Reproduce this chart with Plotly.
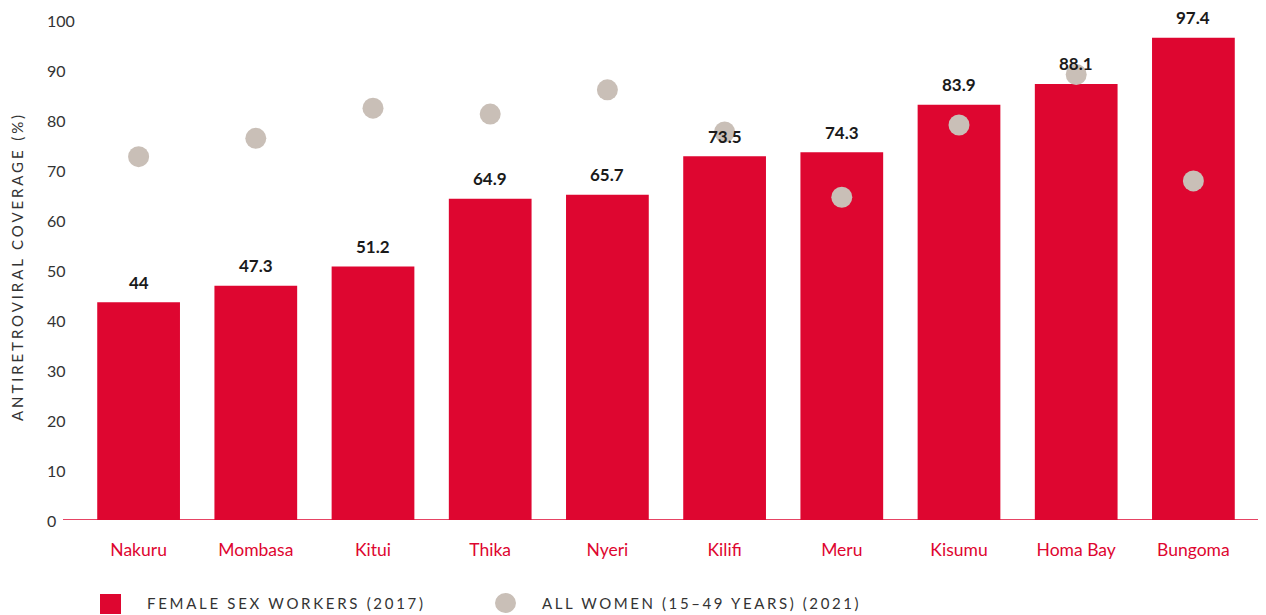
import plotly.graph_objects as go

counties = ["Nakuru", "Mombasa", "Kitui", "Thika", "Nyeri", "Kilifi", "Meru", "Kisumu", "Homa Bay", "Bungoma"]
fsw_2017 = [44, 47.3, 51.2, 64.9, 65.7, 73.5, 74.3, 83.9, 88.1, 97.4]
all_women_2021 = [73.4, 77.1, 83.2, 82.0, 86.9, 78.4, 65.2, 79.8, 90.0, 68.5]
y_ticks = list(range(0, 101, 10))

RED = "#de0630"
GREY = "#c9bfb7"
TXT = "#333333"
FONT = "Lato, 'Open Sans', sans-serif"

OFF = 8  # page body margin
W, H = 1266 - OFF, 615 - OFF
PL, PR, PT, PB = 80, 1252, 25, 520  # plot box in screen pixels
L, R, T, B = PL - OFF, W - (PR - OFF), PT - OFF, H - (PB - OFF)
PW, PH = W - L - R, H - T - B


def px(x):
    return (x - OFF - L) / PW


def py(y):
    return (H - B - (y - OFF)) / PH


fig = go.Figure()
fig.add_trace(go.Bar(x=counties, y=fsw_2017, marker=dict(color=RED, line=dict(width=0)),
                     name="FEMALE SEX WORKERS (2017)", hoverinfo="x+y"))
fig.add_trace(go.Scatter(x=counties, y=all_women_2021, mode="markers",
                         marker=dict(color=GREY, size=21, line=dict(width=0)),
                         name="ALL WOMEN (15–49 YEARS) (2021)", cliponaxis=False))

annotations = []
for c, v in zip(counties, fsw_2017):
    annotations.append(dict(x=c, y=v, xref="x", yref="y", text=f"<b>{v:g}</b>", showarrow=False,
                            yshift=20, yanchor="middle",
                            font=dict(family=FONT, size=17, color="#1a1a1a")))

# left-aligned y tick labels
for t in y_ticks:
    annotations.append(dict(x=px(45), y=t, xref="paper", yref="y", text=str(t), showarrow=False,
                            xanchor="left", yanchor="middle", yshift=t * 0.05,
                            font=dict(family=FONT, size=16, color=TXT)))

# axis title
annotations.append(dict(x=px(17), y=py(267), xref="paper", yref="paper",
                        text='<span style="letter-spacing:2.9px">ANTIRETROVIRAL COVERAGE (%)</span>',
                        textangle=-90, showarrow=False, xanchor="center", yanchor="middle",
                        font=dict(family=FONT, size=15, color=TXT)))
# legend texts
annotations.append(dict(x=px(145), y=py(603), xref="paper", yref="paper",
                        text='<span style="letter-spacing:2.7px">FEMALE SEX WORKERS (2017)</span>',
                        showarrow=False, xanchor="left", yanchor="middle",
                        font=dict(family=FONT, size=15, color=TXT)))
annotations.append(dict(x=px(540), y=py(603), xref="paper", yref="paper",
                        text='<span style="letter-spacing:2.6px">ALL WOMEN (15–49 YEARS) (2021)</span>',
                        showarrow=False, xanchor="left", yanchor="middle",
                        font=dict(family=FONT, size=15, color=TXT)))

shapes = [
    dict(type="line", xref="paper", yref="y", x0=px(63), x1=px(1266), y0=0, y1=0,
         line=dict(color=RED, width=1.5), layer="below"),
    dict(type="rect", xref="paper", yref="paper", x0=px(100), x1=px(121), y0=py(594), y1=py(614),
         fillcolor=RED, line=dict(width=0)),
    dict(type="circle", xref="paper", yref="paper", x0=px(495), x1=px(516), y0=py(593), y1=py(613),
         fillcolor=GREY, line=dict(width=0)),
]

fig.update_layout(
    width=W, height=H,
    margin=dict(l=L, r=R, t=T, b=B, pad=0),
    paper_bgcolor="white", plot_bgcolor="white",
    showlegend=False,
    bargap=0.294,
    annotations=annotations,
    shapes=shapes,
    font=dict(family=FONT, color=TXT),
    xaxis=dict(range=[-0.5, len(counties) - 0.5], showgrid=False, showline=False, zeroline=False,
               ticks="outside", ticklen=14,
               tickcolor="rgba(0,0,0,0)", tickfont=dict(family=FONT, size=17.5, color=RED),
               fixedrange=True),
    yaxis=dict(range=[0, 100], tickvals=y_ticks, showticklabels=False, showgrid=False,
               zeroline=False, showline=False, ticks="", fixedrange=True),
)

fig.write_html("out.html")
